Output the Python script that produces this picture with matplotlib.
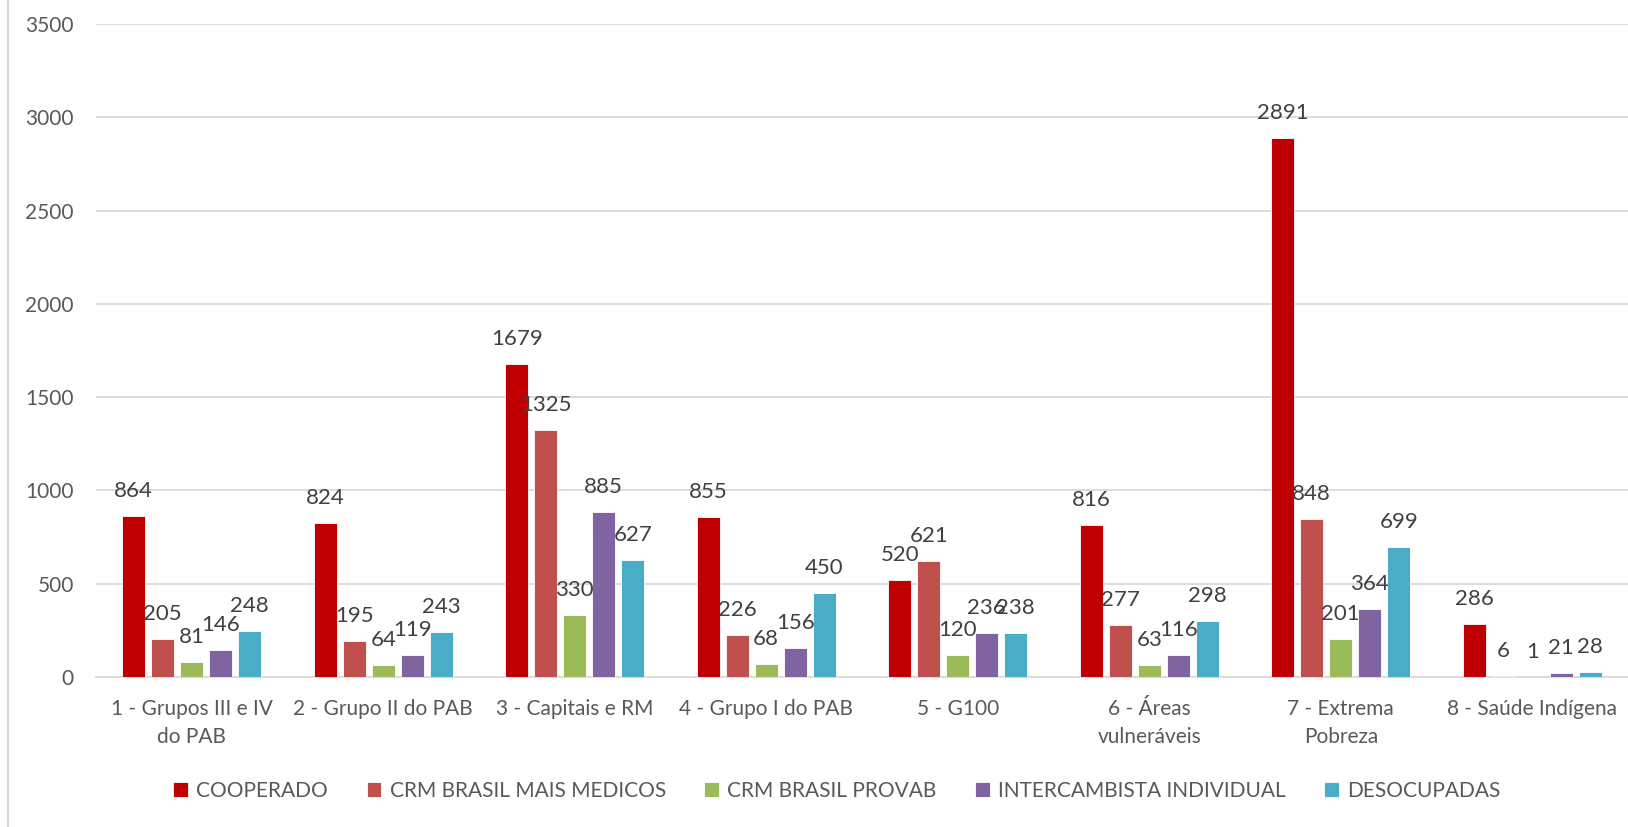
import matplotlib
matplotlib.use("Agg")
import matplotlib.pyplot as plt
from matplotlib.lines import Line2D
import numpy as np

plt.rcParams['font.family'] = ['Lato', 'DejaVu Sans']

categories = ["1 - Grupos III e IV\ndo PAB", "2 - Grupo II do PAB", "3 - Capitais e RM",
              "4 - Grupo I do PAB", "5 - G100", "6 - Áreas\nvulneráveis",
              "7 - Extrema\nPobreza", "8 - Saúde Indígena"]
series_names = ["COOPERADO", "CRM BRASIL MAIS MEDICOS", "CRM BRASIL PROVAB",
                "INTERCAMBISTA INDIVIDUAL", "DESOCUPADAS"]
cooperado = [864, 824, 1679, 855, 520, 816, 2891, 286]
mais_medicos = [205, 195, 1325, 226, 621, 277, 848, 6]
provab = [81, 64, 330, 68, 120, 63, 201, 1]
intercambista = [146, 119, 885, 156, 236, 116, 364, 21]
desocupadas = [248, 243, 627, 450, 238, 298, 699, 28]
yticks = [0, 500, 1000, 1500, 2000, 2500, 3000, 3500]

series = [cooperado, mais_medicos, provab, intercambista, desocupadas]
colors = ["#C00000", "#C0504D", "#9BBB59", "#8064A2", "#4BACC6"]

W, H = 1628, 827
fig = plt.figure(figsize=(W / 100, H / 100), dpi=100)
ax = fig.add_axes([96 / W, 1 - 677 / H, (W - 96) / W, (677 - 24) / H])

x = np.arange(len(categories))
pitch = 0.1514
width = 0.118
for i, (vals, c) in enumerate(zip(series, colors)):
    offs = (i - 2) * pitch
    ax.bar(x + offs, vals, width=width, color=c, edgecolor='white',
           linewidth=0.6, zorder=3, label=series_names[i])
    for xi, v in zip(x + offs, vals):
        ax.annotate(str(v), (xi, v), xytext=(0, 18), textcoords='offset points',
                    ha='center', va='center', fontsize=16, color='#404040', zorder=4)

ax.set_xlim(-0.5, 7.5)
ax.set_ylim(0, 3500)
ax.set_yticks(yticks)
ax.set_yticklabels([str(t) for t in yticks])
ax.yaxis.grid(True, color='#D9D9D9', linewidth=1.3, zorder=0)
ax.set_axisbelow(True)
for s in ['top', 'right', 'left']:
    ax.spines[s].set_visible(False)
ax.spines['bottom'].set_color('#D9D9D9')
ax.spines['bottom'].set_linewidth(1.3)
ax.tick_params(axis='y', length=0, pad=16, labelsize=15, labelcolor='#595959')
ax.tick_params(axis='x', length=0, pad=16, labelsize=15, labelcolor='#595959')
ax.set_xticks(x)
ax.set_xticklabels(categories, linespacing=1.5)

handles, labels = ax.get_legend_handles_labels()
fig.legend(handles, labels, loc='center', bbox_to_anchor=(837 / W, 1 - 791 / H),
           ncol=5, frameon=False, fontsize=15, handlelength=0.7, handleheight=0.7,
           handletextpad=0.4, columnspacing=1.85, labelcolor='#595959')

fig.add_artist(Line2D([8 / W, 8 / W], [0, 1], color='#D9D9D9', linewidth=1.5,
                      transform=fig.transFigure))

fig.savefig("out.png", dpi=100, facecolor='white')
